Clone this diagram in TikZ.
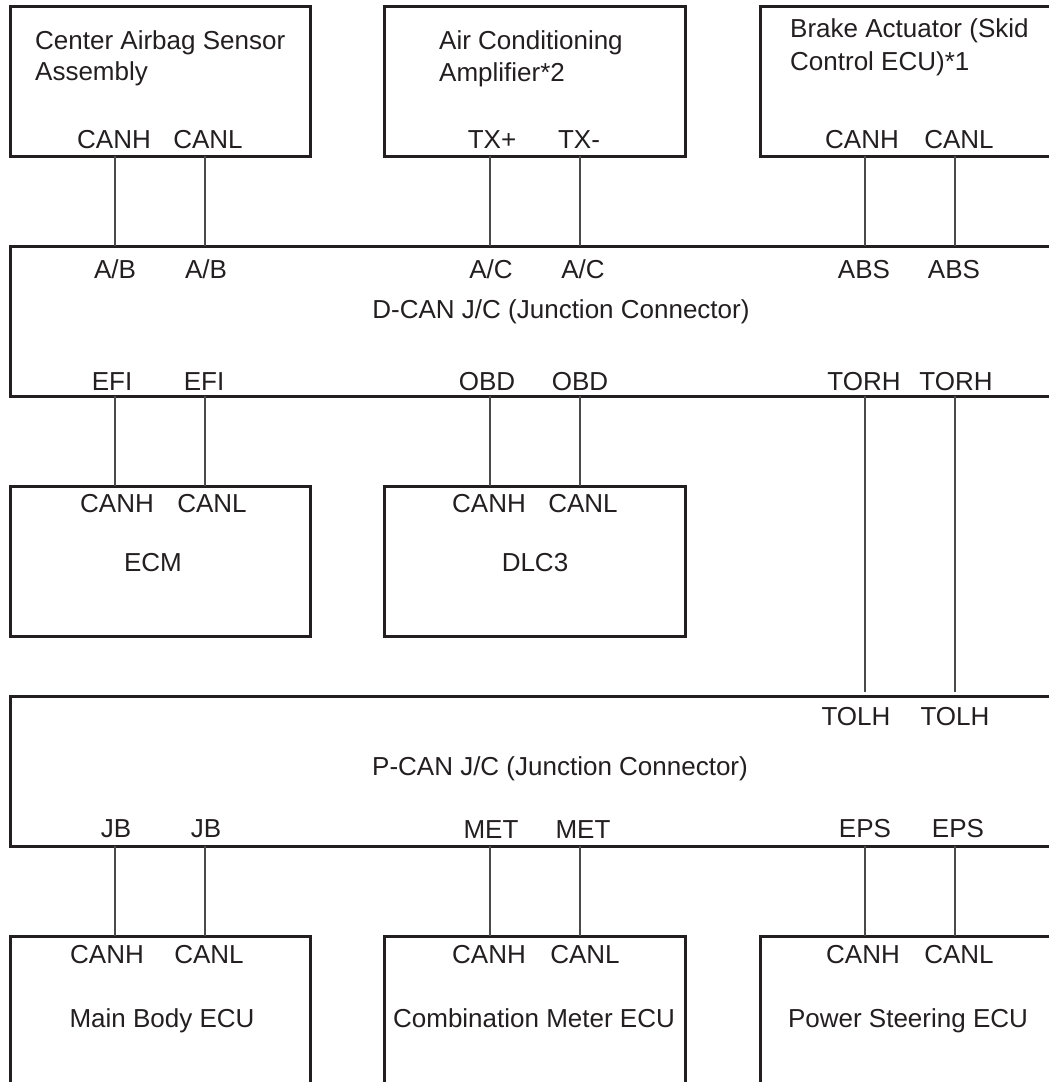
\documentclass[tikz,border=0pt]{standalone}
\usepackage{fontspec}
\setmainfont{Liberation Sans}
\definecolor{ink}{HTML}{231F20}
\definecolor{wire}{HTML}{4A4A4A}
\begin{document}
\begin{tikzpicture}[x=1pt,y=-1pt,
  box/.style={draw=ink,line width=3pt,rectangle,inner sep=0pt,outer sep=0pt},
  lbl/.style={anchor=base,inner sep=0pt,text=ink,font=\fontsize{26}{31}\selectfont},
  lblw/.style={lbl,anchor=base west},
  wireline/.style={draw=wire,line width=1.5pt}]
\clip (0,0) rectangle (1049,1082);
\fill[white] (0,0) rectangle (1049,1082);
% boxes
\node[box,minimum width=300pt,minimum height=150pt] (ab)  at (160,81) {};
\node[box,minimum width=301pt,minimum height=150pt] (ac)  at (534.5,81) {};
\node[box,minimum width=300pt,minimum height=150pt] (br)  at (910,81) {};
\node[box,minimum width=1050pt,minimum height=150pt] (dcan) at (535,321) {};
\node[box,minimum width=300pt,minimum height=150pt] (ecm) at (160,561) {};
\node[box,minimum width=301pt,minimum height=150pt] (dlc) at (534.5,561) {};
\node[box,minimum width=1050pt,minimum height=150pt] (pcan) at (535,771) {};
\node[box,minimum width=300pt,minimum height=154pt] (mb)  at (160,1013) {};
\node[box,minimum width=301pt,minimum height=154pt] (cm)  at (534.5,1013) {};
\node[box,minimum width=300pt,minimum height=154pt] (ps)  at (910,1013) {};
% connectors
\foreach \x in {115,205} {
  \draw[wireline] (ab.south -| \x,0) -- (dcan.north -| \x,0);
  \draw[wireline] (dcan.south -| \x,0) -- (ecm.north -| \x,0);
  \draw[wireline] (pcan.south -| \x,0) -- (mb.north -| \x,0);
}
\foreach \x in {490,580} {
  \draw[wireline] (ac.south -| \x,0) -- (dcan.north -| \x,0);
  \draw[wireline] (dcan.south -| \x,0) -- (dlc.north -| \x,0);
  \draw[wireline] (pcan.south -| \x,0) -- (cm.north -| \x,0);
}
\foreach \x in {865,955} {
  \draw[wireline] (br.south -| \x,0) -- (dcan.north -| \x,0);
  \draw[wireline,shorten >=4pt] (dcan.south -| \x,0) -- (pcan.north -| \x,0);
  \draw[wireline] (pcan.south -| \x,0) -- (ps.north -| \x,0);
}
% top box titles
\node[lblw] (t1a) at (35,49) {Center Airbag Sensor};
\node[lblw] (t1b) at (35,80) {Assembly};
\node[lblw] (t2a) at (439,49) {Air Conditioning};
\node[lblw] (t2b) at (439,81) {Amplifier*2};
\node[lblw] (t3a) at (790,37) {Brake Actuator (Skid};
\node[lblw] (t3b) at (790,70) {Control ECU)*1};
% top pins
\node[lbl] (p1) at (114,148) {CANH};
\node[lbl] (p2) at (208,148) {CANL};
\node[lbl] (p3) at (492,148) {TX+};
\node[lbl] (p4) at (579,148) {TX-};
\node[lbl] (p5) at (862,148) {CANH};
\node[lbl] (p6) at (959,148) {CANL};
% D-CAN
\node[lbl] (d1) at (115,278) {A/B};
\node[lbl] (d2) at (206,278) {A/B};
\node[lbl] (d3) at (491,278) {A/C};
\node[lbl] (d4) at (583,278) {A/C};
\node[lbl] (d5) at (864,278) {ABS};
\node[lbl] (d6) at (954,278) {ABS};
\node[lbl] (dt) at (561,318) {D-CAN J/C (Junction Connector)};
\node[lbl] (d7) at (112,390) {EFI};
\node[lbl] (d8) at (204,390) {EFI};
\node[lbl] (d9) at (487,390) {OBD};
\node[lbl] (d10) at (580,390) {OBD};
\node[lbl] (d11) at (864,390) {TORH};
\node[lbl] (d12) at (956,390) {TORH};
% ECM / DLC3
\node[lbl] (e1) at (117,512) {CANH};
\node[lbl] (e2) at (212,512) {CANL};
\node[lbl] (e3) at (153,571) {ECM};
\node[lbl] (f1) at (489,512) {CANH};
\node[lbl] (f2) at (583,512) {CANL};
\node[lbl] (f3) at (535,571) {DLC3};
% P-CAN
\node[lbl] (q1) at (856,725) {TOLH};
\node[lbl] (q2) at (955,725) {TOLH};
\node[lbl] (qt) at (560,775) {P-CAN J/C (Junction Connector)};
\node[lbl] (q3) at (116,837) {JB};
\node[lbl] (q4) at (206,837) {JB};
\node[lbl] (q5) at (491,838) {MET};
\node[lbl] (q6) at (583,838) {MET};
\node[lbl] (q7) at (865,837) {EPS};
\node[lbl] (q8) at (958,837) {EPS};
% bottom boxes
\node[lbl] (b1) at (107,963) {CANH};
\node[lbl] (b2) at (209,963) {CANL};
\node[lbl] (b3) at (162,1027) {Main Body ECU};
\node[lbl] (c1) at (489,963) {CANH};
\node[lbl] (c2) at (585,963) {CANL};
\node[lbl] (c3) at (534,1027) {Combination Meter ECU};
\node[lbl] (s1) at (863,963) {CANH};
\node[lbl] (s2) at (959,963) {CANL};
\node[lbl] (s3) at (908,1027) {Power Steering ECU};
\end{tikzpicture}
\end{document}
